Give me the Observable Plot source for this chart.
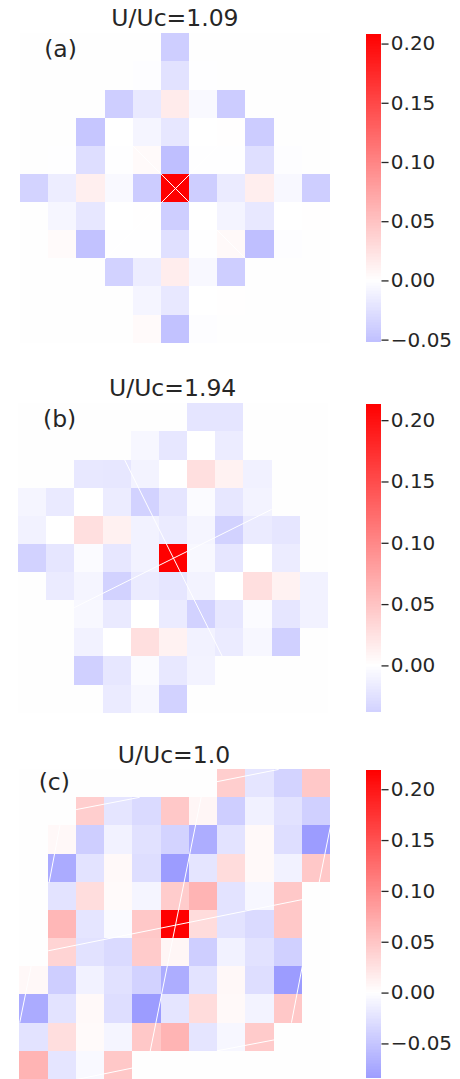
<!DOCTYPE html>
<html><head><meta charset="utf-8">
<script src="https://cdn.jsdelivr.net/npm/d3@7"></script>
<script src="https://cdn.jsdelivr.net/npm/@observablehq/plot@0.6"></script>
<style>
html,body{margin:0;padding:0;background:#fff;}
#fig{position:relative;width:460px;height:1079px;overflow:hidden;font-family:"DejaVu Sans",sans-serif;}
#fig svg{position:absolute;left:0;background:transparent;}
</style></head><body><div id="fig"></div>
<script>
const _ = null;
const gridA = [
[_,_,_,_,_,-.04,_,_,_,_,_],
[_,_,_,_,-.002,-.024,-.001,_,_,_,_],
[_,_,_,-.04,-.018,.016,-.005,-.042,_,_,_],
[_,_,-.047,0,-.008,-.02,0,.001,-.042,_,_],
[_,-.001,-.027,-.001,.004,-.052,-.001,-.001,-.026,-.002,_],
[-.036,-.015,.013,-.005,-.042,.2085,-.04,-.016,.014,-.006,-.04],
[_,-.007,-.02,0,.001,-.04,0,-.009,-.019,0,.001],
[_,.004,-.05,-.001,-.001,-.025,-.001,.005,-.052,-.002,_],
[_,_,_,-.037,-.015,.015,-.006,-.04,_,_,_],
[_,_,_,_,-.008,-.019,0,.001,_,_,_],
[_,_,_,_,.004,-.05,-.002,_,_,_,_]];
const gridB = [
[_,_,_,_,_,_,-.022,-.022,_,_,_],
[_,_,_,_,-.007,-.02,0,-.016,_,_,_],
[_,_,-.019,-.02,-.01,0,.027,.011,-.012,_,_],
[-.008,-.018,0,-.016,-.038,-.022,-.003,-.02,-.01,_,_],
[-.011,0,.027,.012,-.011,-.017,-.008,-.038,-.017,-.021,_],
[-.038,-.021,-.003,-.02,-.011,.2136,-.006,-.021,0,-.016,_],
[_,-.017,-.008,-.038,-.017,-.021,-.01,0,.027,.011,-.011],
[_,_,-.006,-.018,0,-.017,-.038,-.02,-.003,-.021,-.011],
[_,_,-.011,0,.027,.011,-.011,-.017,-.007,-.039,_],
[_,_,-.039,-.02,-.003,-.019,-.01,_,_,_,_],
[_,_,_,-.017,-.007,-.038,_,_,_,_,_]];
const gridC = [
[_,_,_,_,_,_,_,.042,-.022,-.038,.047],
[_,_,.042,-.022,-.032,.047,.008,-.042,-.012,-.025,-.04],
[_,.006,-.042,-.011,-.026,-.038,-.07,-.024,.005,-.028,-.085],
[_,-.072,-.024,.005,-.028,-.085,-.022,.03,.005,-.011,.047],
[_,-.024,.029,.004,-.009,.044,.064,-.024,-.007,.047,_],
[_,.062,-.022,-.004,.047,.2189,.03,-.024,-.032,.047,_],
[_,.037,-.025,-.032,.045,.008,-.042,-.011,-.025,-.04,_],
[.006,-.042,-.011,-.026,-.039,-.07,-.024,.006,-.028,-.085,_],
[-.072,-.024,.005,-.028,-.085,-.022,.03,.005,-.01,.047,_],
[-.024,.028,.004,-.009,.047,.064,-.022,-.007,.045,_,_],
[.064,-.022,-.005,.047,_,_,_,_,_,_,_]];

const linesA = [[[4,4],[8,8]],[[3,8],[7,4]]];
const linesB = [[[3.76,1.98],[7.23,8.98]],[[1.99,7.24],[8.97,3.76]]];
const linesC = [
[[6.99,.43],[9.15,0]],[[2.01,1.42],[4.23,.99]],[[1.02,6.43],[9.98,4.62]],
[[6.99,9.98],[9.03,9.59]],[[2.01,11],[4,10.59]],[[6.42,.99],[4.62,9.98]],
[[1.42,1.99],[1.04,4]],[[11.04,1.81],[10.6,4]],[[.4,6.99],[0,8.97]],[[10,6.99],[9.62,8.97]]];

const titles = ["U/Uc=1.09","U/Uc=1.94","U/Uc=1.0"];
const labels = ["(a)","(b)","(c)"];
const ticksA = [-.05,0,.05,.1,.15,.2];
const ticksB = [0,.05,.1,.15,.2];
const ticksC = [-.05,0,.05,.1,.15,.2];

const ink = "#262626";
const panels = [
 {grid:gridA,lines:linesA,title:titles[0],label:labels[0],ticks:ticksA,top:0,h:360,
  xr:[20,330],yr:[33.3,342.7],bar:[33.5,342],vmin:-.052,vmax:.2085,tx:5.48,ty:-.55,lx:1.42,ly:.57},
 {grid:gridB,lines:linesB,title:titles[1],label:labels[1],ticks:ticksB,top:370,h:360,
  xr:[18,328],yr:[33.3,342.7],bar:[33.5,342],vmin:-.038,vmax:.2136,tx:5.47,ty:-.55,lx:1.46,ly:.57},
 {grid:gridC,lines:linesC,title:titles[2],label:labels[2],ticks:ticksC,top:735,h:344,
  xr:[19.3,330],yr:[34,344],bar:[35,343],vmin:-.084,vmax:.2189,tx:5.46,ty:-.5,lx:1.22,ly:.45}
];
const fig = document.getElementById("fig");
for (const p of panels) {
  const color = {type:"linear",domain:[-p.vmax,0,p.vmax],range:["#0000ff","#ffffff","#ff0000"],interpolate:"rgb"};
  const cells = p.grid.flatMap((row,r)=>row.map((v,c)=>({c,r,v}))).filter(d=>d.v!==null);
  const segs = p.lines.flatMap((l,i)=>l.map(([x,y])=>({x,y,i})));
  const heat = Plot.plot({
    width:350,height:p.h,margin:0,
    x:{domain:[0,11],range:p.xr,axis:null},
    y:{domain:[0,11],range:p.yr,axis:null},
    color,
    marks:[
      Plot.rect([0],{x1:()=>0,x2:()=>11,y1:()=>0,y2:()=>11,fill:()=>"#fefefe",shapeRendering:"crispEdges"}),
      Plot.rect(cells,{x1:"c",x2:d=>d.c+1,y1:"r",y2:d=>d.r+1,fill:"v",shapeRendering:"crispEdges"}),
      Plot.line(segs,{x:"x",y:"y",z:"i",stroke:"white",strokeWidth:1}),
      Plot.text([p.title],{x:()=>p.tx,y:()=>p.ty,text:d=>d,fontSize:23.5,fill:ink,fontFamily:"DejaVu Sans"}),
      Plot.text([p.label],{x:()=>p.lx,y:()=>p.ly,text:d=>d,fontSize:23.5,fill:ink,fontFamily:"DejaVu Sans"})
    ]
  });
  heat.style.top = p.top+"px";
  fig.appendChild(heat);
  const strips = d3.range(200).map(i=>{
    const a=p.vmin+(p.vmax-p.vmin)*i/200,b=p.vmin+(p.vmax-p.vmin)*(i+1)/200;
    return {a,b,m:(a+b)/2};
  });
  const bar = Plot.plot({
    width:460,height:p.h,marginTop:0,marginBottom:0,marginLeft:0,marginRight:0,
    x:{domain:[0,1],range:[366,381],axis:null},
    y:{domain:[p.vmin,p.vmax],range:[p.bar[1],p.bar[0]],axis:null},
    color,
    marks:[
      Plot.rect(strips,{x1:()=>0,x2:()=>1,y1:"a",y2:"b",fill:"m",shapeRendering:"crispEdges"}),
      Plot.link(p.ticks,{x1:()=>1,x2:()=>1.47,y1:d=>d,y2:d=>d,stroke:ink,strokeWidth:1.3}),
      Plot.text(p.ticks,{x:()=>1.62,y:d=>d,text:d=>d3.format(".2f")(d).replace("-","\u2212"),textAnchor:"start",fontSize:20,fill:ink,fontFamily:"DejaVu Sans"})
    ]
  });
  bar.style.top = p.top+"px";
  fig.appendChild(bar);
}
</script></body></html>
